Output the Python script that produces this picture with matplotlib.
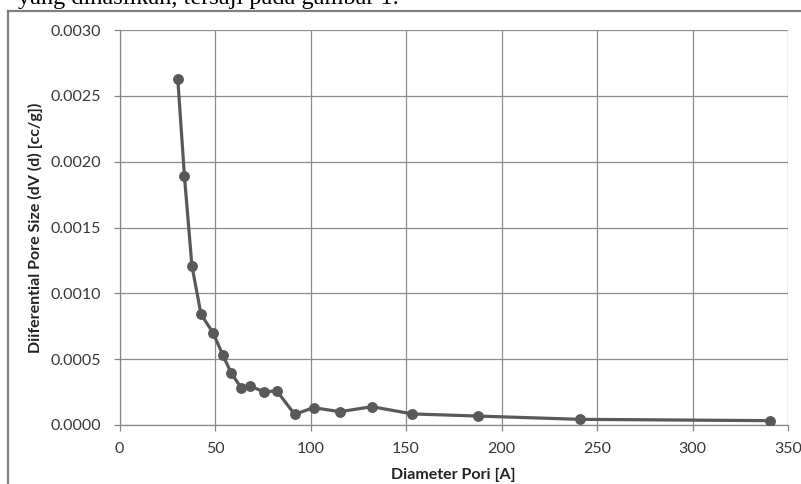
import matplotlib
matplotlib.use("Agg")
import matplotlib.pyplot as plt
from matplotlib.lines import Line2D

# Data
diameter = [30.5, 34.0, 37.9, 42.7, 48.9, 54.1, 58.5, 63.7, 68.4, 75.4, 82.4,
            91.7, 101.6, 115.3, 132.2, 153.4, 187.6, 241.0, 340.6]
dv = [0.00263, 0.00189, 0.00121, 0.00084, 0.000702, 0.000532, 0.000393,
      0.000284, 0.000296, 0.000253, 0.000258, 0.000081, 0.000132, 0.000101,
      0.000139, 0.000084, 0.000068, 0.000043, 0.000033]
x_ticks = [0, 50, 100, 150, 200, 250, 300, 350]
y_ticks = [0.0, 0.0005, 0.0010, 0.0015, 0.0020, 0.0025, 0.0030]
x_label = "Diameter Pori [A]"
y_label = "Diiferential Pore Size (dV (d) [cc/g])"
caption = "yang dihasilkan, tersaji pada gambar 1."

W, H = 801, 484
fig = plt.figure(figsize=(W / 100, H / 100), dpi=100)
fig.patch.set_facecolor("white")

left, right, top, bottom = 119.5, 788, 30, 425
ax = fig.add_axes([left / W, 1 - bottom / H, (right - left) / W, (bottom - top) / H])

font = ["Lato", "DejaVu Sans"]
tick_color = "#383838"
grid_color = "#8c8c8c"

ax.plot(diameter, dv, color="#595959", lw=2.3, marker="o", markersize=6.8,
        markerfacecolor="#595959", markeredgecolor="#595959", zorder=3,
        solid_joinstyle="round")

ax.set_xlim(0, 350)
ax.set_ylim(0, 0.0030)
ax.set_xticks(x_ticks)
ax.set_yticks(y_ticks)
ax.set_xticklabels([str(v) for v in x_ticks], family=font, fontsize=11.5, color=tick_color)
ax.set_yticklabels([f"{v:.4f}" for v in y_ticks], family=font, fontsize=11.5, color=tick_color)

ax.grid(True, color=grid_color, lw=0.9)
ax.set_axisbelow(True)
for s in ["top", "right"]:
    ax.spines[s].set_visible(False)
for s in ["left", "bottom"]:
    ax.spines[s].set_color("#868686")
    ax.spines[s].set_linewidth(0.9)

ax.tick_params(axis="both", direction="out", length=4.5, width=0.9, color="#868686")
ax.tick_params(axis="y", pad=9)
ax.tick_params(axis="x", pad=8)

ax.set_xlabel(x_label, family=font, fontsize=11.5, fontweight="bold", color="#222222", labelpad=8)
ax.set_ylabel(y_label, family=font, fontsize=11.5, fontweight="bold", color="#222222", labelpad=5)

# Document frame and cropped caption
fig.add_artist(Line2D([8 / W, 8 / W], [0, 1 - 11 / H], transform=fig.transFigure,
                      color="#808080", lw=1.6))
fig.add_artist(Line2D([8 / W, 1], [1 - 11 / H, 1 - 11 / H], transform=fig.transFigure,
                      color="#808080", lw=1.6))
fig.text(18 / W, 1 - 4 / H, caption, family=["Liberation Serif"], fontsize=17.5,
         color="black", ha="left", va="baseline")

fig.savefig("out.png", dpi=100)
